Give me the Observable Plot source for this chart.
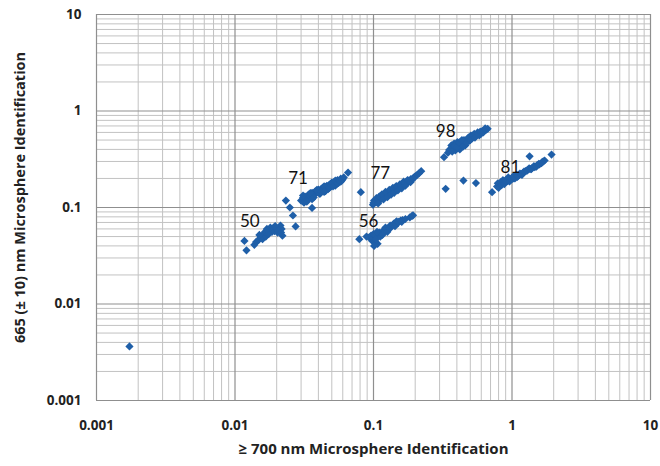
<!DOCTYPE html>
<html>
<head>
<meta charset="utf-8">
<script src="https://cdn.jsdelivr.net/npm/d3@7"></script>
<script src="https://cdn.jsdelivr.net/npm/@observablehq/plot@0.6"></script>
<style>
  html, body { margin: 0; padding: 0; background: #fff; }
  #chart svg { display: block; }
</style>
</head>
<body>
<div id="chart"></div>
<script>
// ---- Data ----
const groupLabels = ["50", "71", "77", "56", "98", "81"];
const labelX = [0.0128, 0.0285, 0.112, 0.092, 0.332, 0.975];
const labelY = [0.0721, 0.198, 0.2267, 0.0721, 0.613, 0.2617];

const outlierX = [0.00173, 0.0233, 0.0249, 0.0262, 0.0274, 0.036, 0.081, 0.332, 0.446, 0.549, 0.718, 1.34, 1.93];
const outlierY = [0.00363, 0.118, 0.100, 0.0826, 0.0636, 0.099, 0.144, 0.156, 0.190, 0.179, 0.144, 0.339, 0.354];

const g50x = [0.0117, 0.0121, 0.0138, 0.0142, 0.0148, 0.0153, 0.0158, 0.0158, 0.0163, 0.0167, 0.0172, 0.0177, 0.0183, 0.0185, 0.0190, 0.0193, 0.0199, 0.0203, 0.0208, 0.0213, 0.0217, 0.0220,
  0.0150, 0.0165, 0.0175, 0.0180, 0.0195, 0.0205, 0.0170, 0.0215];
const g50y = [0.045, 0.036, 0.041, 0.044, 0.046, 0.049, 0.051, 0.047, 0.054, 0.050, 0.055, 0.058, 0.060, 0.056, 0.062, 0.057, 0.060, 0.055, 0.062, 0.065, 0.060, 0.051,
  0.052, 0.056, 0.053, 0.062, 0.064, 0.058, 0.060, 0.055];

const g71x = [0.030, 0.031, 0.0315, 0.032, 0.033, 0.034, 0.034, 0.035, 0.036, 0.036, 0.037, 0.038, 0.038, 0.039, 0.040, 0.040, 0.041, 0.042, 0.043, 0.043, 0.044, 0.045, 0.045, 0.046, 0.046, 0.047, 0.048, 0.049, 0.049, 0.050, 0.052, 0.052, 0.053, 0.054, 0.055, 0.056, 0.058, 0.059, 0.061, 0.0655,
  0.031, 0.033, 0.035, 0.037, 0.039, 0.041, 0.042, 0.044, 0.047, 0.048, 0.050, 0.051, 0.053, 0.055, 0.057, 0.060, 0.058, 0.044, 0.036];
const g71y = [0.118, 0.126, 0.112, 0.130, 0.121, 0.136, 0.126, 0.131, 0.142, 0.133, 0.137, 0.147, 0.138, 0.143, 0.153, 0.144, 0.150, 0.156, 0.160, 0.150, 0.157, 0.163, 0.148, 0.168, 0.158, 0.165, 0.172, 0.176, 0.164, 0.172, 0.183, 0.172, 0.168, 0.185, 0.192, 0.180, 0.199, 0.190, 0.205, 0.230,
  0.133, 0.115, 0.141, 0.127, 0.152, 0.138, 0.146, 0.166, 0.155, 0.160, 0.181, 0.165, 0.190, 0.178, 0.187, 0.197, 0.185, 0.145, 0.122];

const g77x = [0.099, 0.101, 0.104, 0.107, 0.110, 0.112, 0.115, 0.118, 0.120, 0.122, 0.125, 0.127, 0.130, 0.132, 0.135, 0.137, 0.140, 0.142, 0.145, 0.148, 0.150, 0.153, 0.156, 0.158, 0.161, 0.165, 0.168, 0.171, 0.175, 0.178, 0.182, 0.186, 0.190, 0.195, 0.200, 0.206, 0.213, 0.221,
  0.105, 0.110, 0.115, 0.118, 0.122, 0.126, 0.130, 0.134, 0.138, 0.141, 0.146, 0.150, 0.155, 0.160, 0.165, 0.170, 0.176, 0.185, 0.193, 0.100, 0.108];
const g77y = [0.107, 0.118, 0.113, 0.120, 0.117, 0.128, 0.124, 0.132, 0.127, 0.137, 0.133, 0.142, 0.138, 0.147, 0.143, 0.152, 0.148, 0.157, 0.153, 0.162, 0.158, 0.167, 0.163, 0.172, 0.168, 0.178, 0.174, 0.183, 0.180, 0.190, 0.187, 0.197, 0.194, 0.204, 0.210, 0.217, 0.226, 0.238,
  0.125, 0.130, 0.137, 0.121, 0.145, 0.128, 0.152, 0.136, 0.160, 0.142, 0.167, 0.150, 0.174, 0.158, 0.185, 0.168, 0.192, 0.183, 0.199, 0.112, 0.110];

const g56x = [0.079, 0.089, 0.093, 0.096, 0.098, 0.099, 0.100, 0.103, 0.105, 0.107, 0.108, 0.110, 0.112, 0.114, 0.118, 0.120, 0.124, 0.128, 0.132, 0.135, 0.140, 0.145, 0.150, 0.157, 0.162, 0.183, 0.190, 0.193,
  0.102, 0.104, 0.106, 0.116, 0.122, 0.126, 0.130, 0.138, 0.143, 0.147, 0.152, 0.160, 0.170, 0.101];
const g56y = [0.047, 0.050, 0.049, 0.051, 0.045, 0.048, 0.053, 0.044, 0.050, 0.042, 0.053, 0.055, 0.050, 0.054, 0.058, 0.056, 0.060, 0.059, 0.065, 0.063, 0.068, 0.070, 0.069, 0.073, 0.074, 0.079, 0.082, 0.083,
  0.052, 0.047, 0.056, 0.052, 0.062, 0.056, 0.061, 0.066, 0.064, 0.072, 0.071, 0.071, 0.076, 0.040];

const g98x = [0.323, 0.345, 0.360, 0.365, 0.375, 0.382, 0.390, 0.395, 0.403, 0.410, 0.420, 0.425, 0.440, 0.450, 0.460, 0.477, 0.490, 0.505, 0.515, 0.534, 0.550, 0.565, 0.580, 0.597, 0.610, 0.631, 0.650, 0.667,
  0.352, 0.370, 0.385, 0.400, 0.415, 0.435, 0.445, 0.470, 0.485, 0.500, 0.525, 0.540, 0.570, 0.590, 0.620, 0.640];
const g98y = [0.332, 0.370, 0.400, 0.440, 0.420, 0.460, 0.390, 0.430, 0.475, 0.450, 0.400, 0.480, 0.460, 0.500, 0.440, 0.515, 0.490, 0.557, 0.520, 0.580, 0.550, 0.600, 0.560, 0.580, 0.620, 0.628, 0.640, 0.654,
  0.395, 0.380, 0.430, 0.420, 0.470, 0.500, 0.430, 0.470, 0.530, 0.500, 0.560, 0.530, 0.580, 0.610, 0.600, 0.660];

const g81x = [0.78, 0.79, 0.81, 0.83, 0.85, 0.87, 0.89, 0.91, 0.93, 0.95, 0.97, 1.00, 1.03, 1.06, 1.09, 1.12, 1.16, 1.20, 1.25, 1.30, 1.35, 1.40, 1.46, 1.52, 1.58, 1.63, 1.68, 1.72,
  0.80, 0.84, 0.86, 0.88, 0.90, 0.94, 0.96, 0.99, 1.02, 1.05, 1.08, 1.10, 1.14, 1.18, 1.22, 1.28, 1.33, 1.38, 1.44, 1.50, 1.56, 1.65];
const g81y = [0.165, 0.178, 0.172, 0.183, 0.176, 0.188, 0.182, 0.194, 0.188, 0.198, 0.193, 0.203, 0.200, 0.212, 0.207, 0.218, 0.223, 0.228, 0.238, 0.246, 0.250, 0.258, 0.262, 0.275, 0.280, 0.288, 0.300, 0.307,
  0.160, 0.170, 0.192, 0.175, 0.188, 0.205, 0.186, 0.195, 0.210, 0.200, 0.218, 0.210, 0.225, 0.218, 0.235, 0.240, 0.255, 0.250, 0.268, 0.265, 0.283, 0.295];

const majorTicks = [0.001, 0.01, 0.1, 1, 10];
const tickLabels = ["0.001", "0.01", "0.1", "1", "10"];
const minorMultipliers = [2, 3, 4, 5, 6, 7, 8, 9];

const xTitle = "≥ 700 nm Microsphere Identification";
const yTitle = "665 (± 10) nm Microsphere Identification";

// ---- Build tables ----
const xs = [outlierX, g50x, g71x, g77x, g56x, g98x, g81x];
const ys = [outlierY, g50y, g71y, g77y, g56y, g98y, g81y];
const points = xs.flatMap((arr, k) => arr.map((x, i) => ({x, y: ys[k][i]})));
const labels = groupLabels.map((t, i) => ({t, x: labelX[i], y: labelY[i]}));
const minorTicks = majorTicks.slice(0, -1).flatMap(d => minorMultipliers.map(m => d * m));

const font = "'Open Sans', Lato, sans-serif";
const blue = "#1f5fa8";

const chart = Plot.plot({
  width: 660,
  height: 466,
  marginLeft: 96,
  marginRight: 10,
  marginTop: 14,
  marginBottom: 66,
  style: {fontFamily: font, background: "#fff"},
  x: {type: "log", domain: [0.001, 10], axis: null},
  y: {type: "log", domain: [0.001, 10], axis: null},
  marks: [
    Plot.ruleX(minorTicks, {stroke: "#c2c2c2", strokeWidth: 1}),
    Plot.ruleY(minorTicks, {stroke: "#c2c2c2", strokeWidth: 1}),
    Plot.ruleX(majorTicks, {stroke: "#8f8f8f", strokeWidth: 1.2}),
    Plot.ruleY(majorTicks, {stroke: "#8f8f8f", strokeWidth: 1.2}),
    Plot.axisX({ticks: majorTicks, tickSize: 0, tickPadding: 20,
      tickFormat: d => tickLabels[majorTicks.indexOf(d)],
      fontSize: 13.5, fontWeight: "bold", fill: "#222", label: null}),
    Plot.axisY({ticks: majorTicks, tickSize: 0, tickPadding: 15,
      tickFormat: d => tickLabels[majorTicks.indexOf(d)],
      fontSize: 13.5, fontWeight: "bold", fill: "#222", label: null}),
    Plot.dot(points, {x: "x", y: "y", symbol: "diamond2", r: 3.7, fill: blue, stroke: "none"}),
    Plot.text(labels, {x: "x", y: "y", text: "t", fontFamily: "Lato, sans-serif", fontSize: 17, fill: "#111"}),
    Plot.text([xTitle], {frameAnchor: "bottom", textAnchor: "middle", dy: 53, fontSize: 15, fontWeight: "bold", fill: "#222"}),
    Plot.text([yTitle], {frameAnchor: "left", textAnchor: "middle", dx: -76, dy: -10, rotate: -90, fontSize: 14.5, fontWeight: "bold", fill: "#222"})
  ]
});
document.getElementById("chart").appendChild(chart);
</script>
</body>
</html>
